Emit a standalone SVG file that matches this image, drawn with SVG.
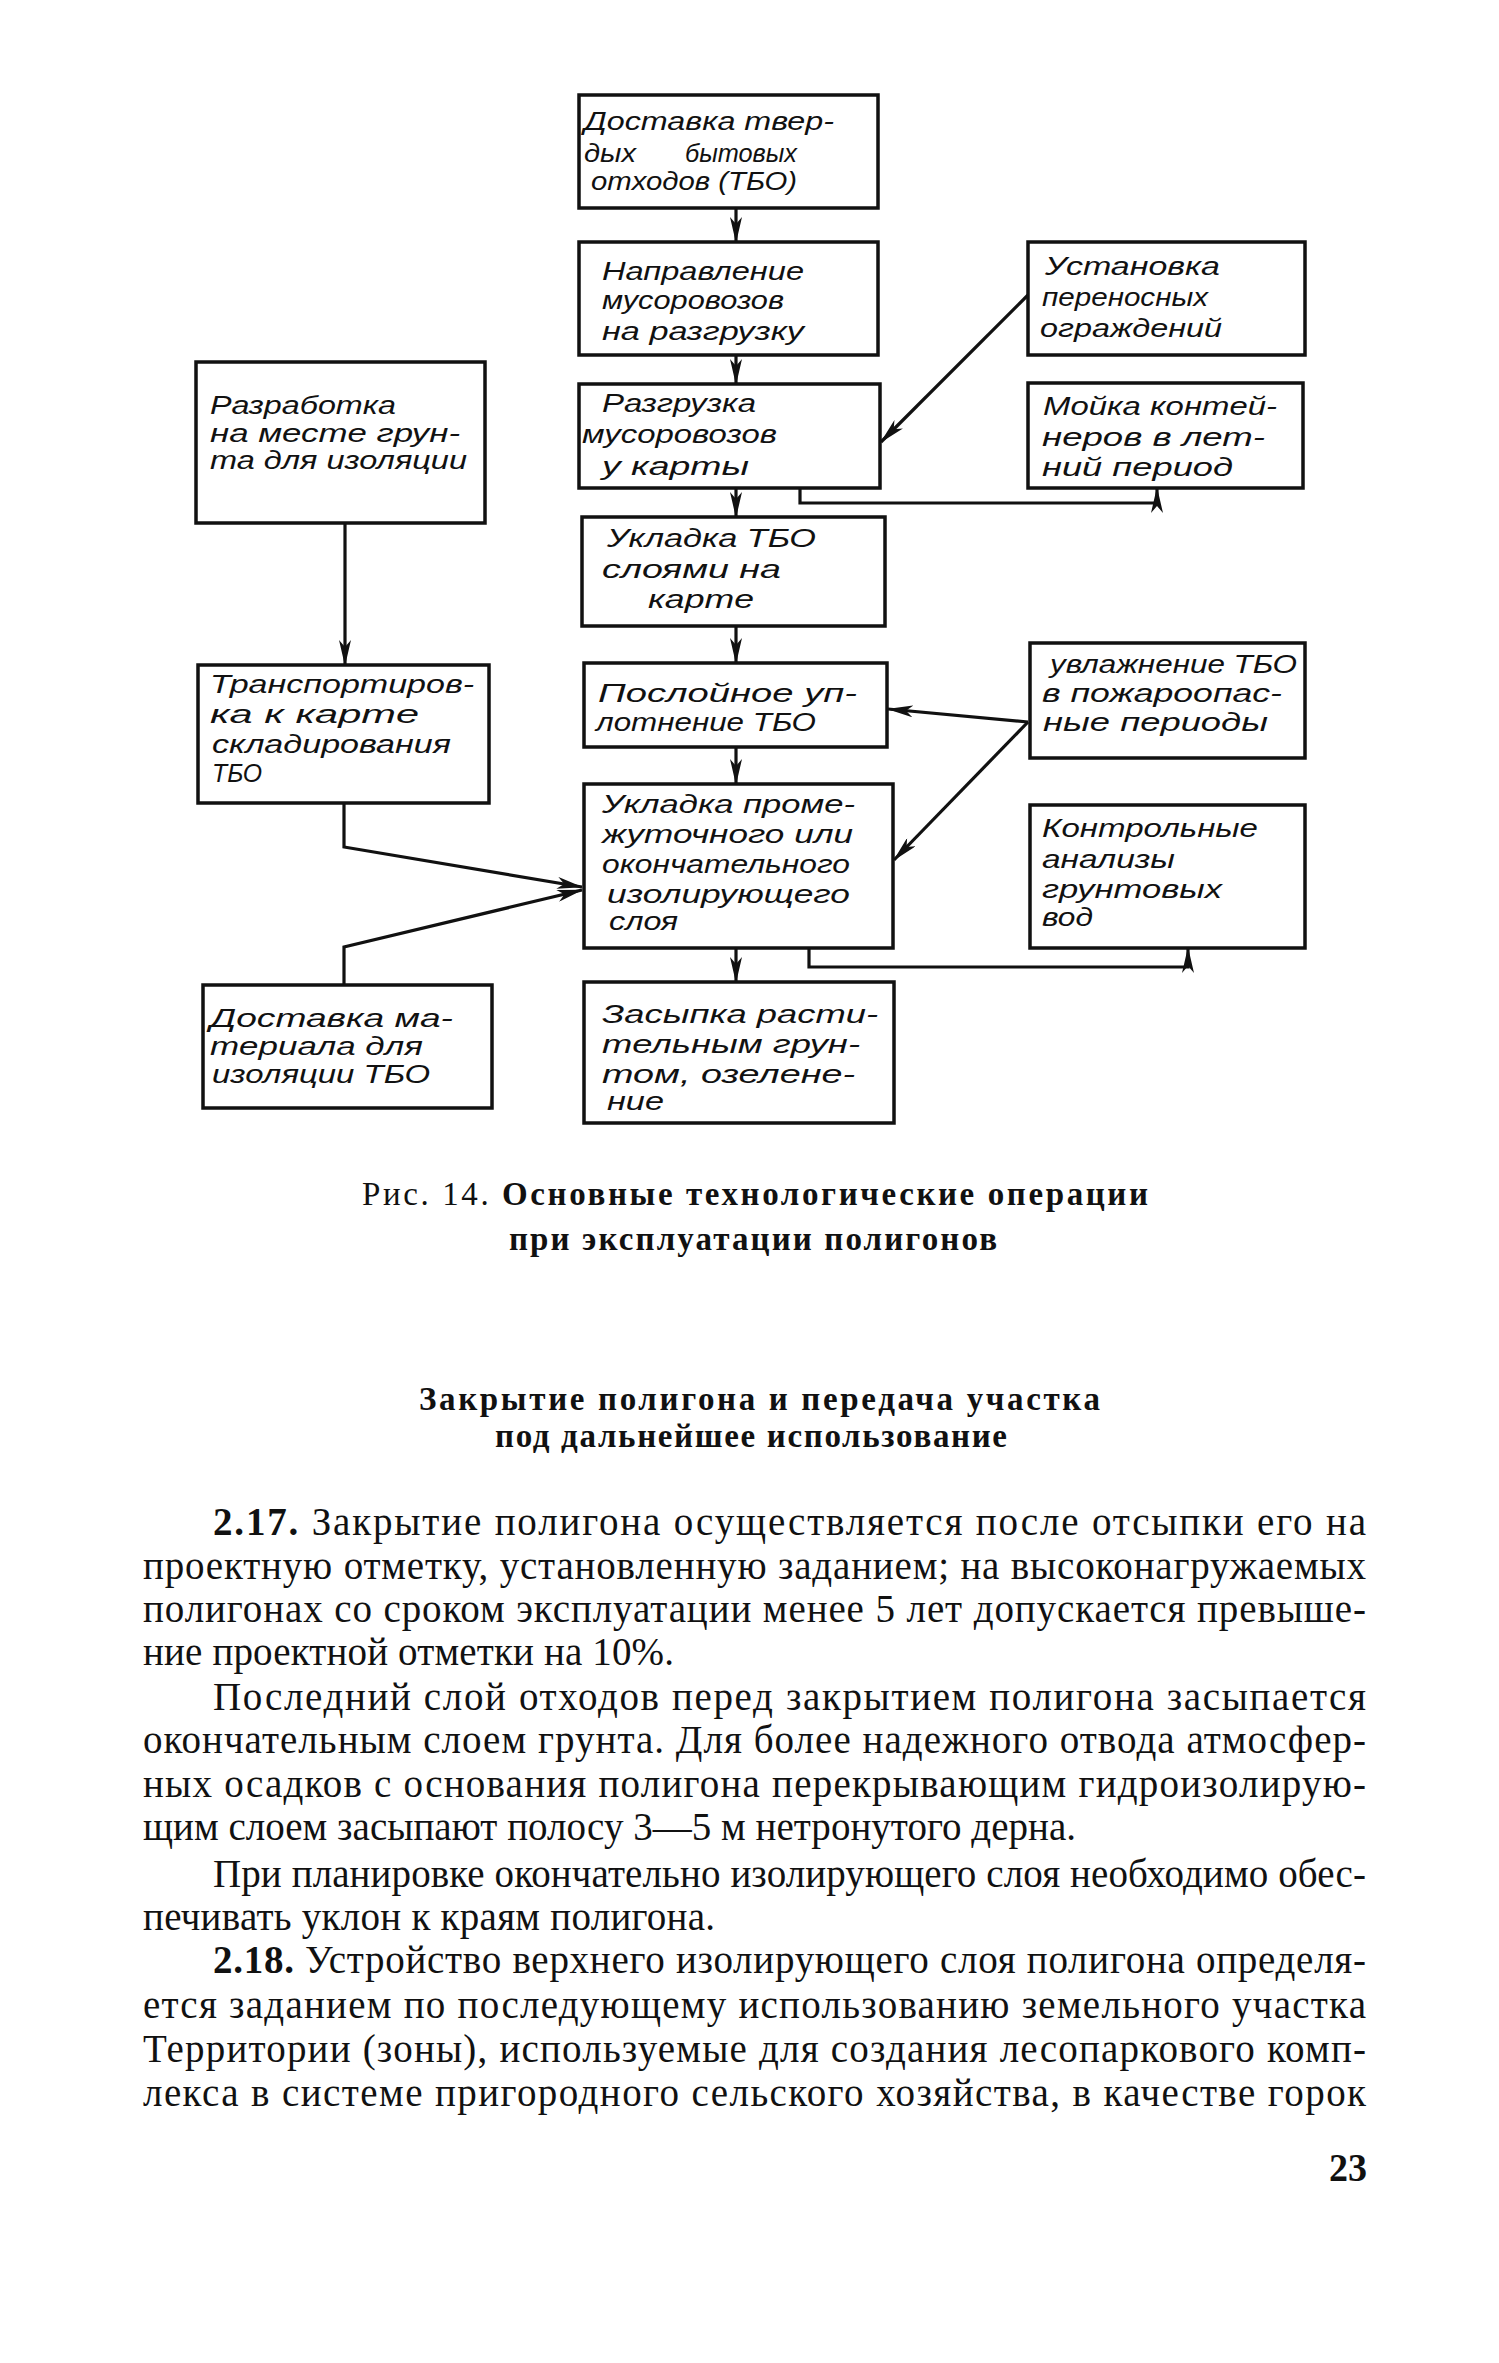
<svg xmlns="http://www.w3.org/2000/svg" width="1499" height="2363" viewBox="0 0 1499 2363">
<style>
.box{fill:#fff;stroke:#111;stroke-width:3.5}
.bt{font-family:"Liberation Sans",Arial,sans-serif;font-style:italic;font-size:25px;fill:#111}
.ln{fill:none;stroke:#111;stroke-width:3.2;stroke-linejoin:miter}
.body{font-family:"Liberation Serif","Times New Roman",serif;font-size:39px;fill:#111}
.cap{font-family:"Liberation Serif","Times New Roman",serif;font-size:33px;font-weight:bold;fill:#111}
.b{font-weight:bold}
.n{font-weight:normal}
</style>
<defs>
<marker id="ah" markerUnits="userSpaceOnUse" viewBox="0 0 26 12" refX="25" refY="6" markerWidth="26" markerHeight="12" orient="auto">
<path d="M0,0 L26,6 L0,12 L7,6 z" fill="#111"/>
</marker>
</defs>
<rect x="0" y="0" width="1499" height="2363" fill="#fff"/>

<g id="connectors">
<line class="ln" x1="736" y1="208" x2="736" y2="242" marker-end="url(#ah)"/>
<line class="ln" x1="736" y1="355" x2="736" y2="384" marker-end="url(#ah)"/>
<line class="ln" x1="736" y1="488" x2="736" y2="517" marker-end="url(#ah)"/>
<line class="ln" x1="736" y1="626" x2="736" y2="663" marker-end="url(#ah)"/>
<line class="ln" x1="736" y1="747" x2="736" y2="784" marker-end="url(#ah)"/>
<line class="ln" x1="736" y1="948" x2="736" y2="982" marker-end="url(#ah)"/>
<line class="ln" x1="345" y1="523" x2="345" y2="665" marker-end="url(#ah)"/>
<polyline class="ln" points="344,803 344,847 582,887" marker-end="url(#ah)"/>
<polyline class="ln" points="344,985 344,947 582,890" marker-end="url(#ah)"/>
<line class="ln" x1="1028" y1="295" x2="881" y2="442" marker-end="url(#ah)"/>
<polyline class="ln" points="800,488 800,503 1157,503 1157,488" marker-end="url(#ah)"/>
<line class="ln" x1="1028" y1="722" x2="888" y2="709" marker-end="url(#ah)"/>
<line class="ln" x1="1028" y1="722" x2="894" y2="860" marker-end="url(#ah)"/>
<polyline class="ln" points="809,948 809,967 1188,967 1188,948" marker-end="url(#ah)"/>
</g>

<g id="n1">
<rect class="box" x="579" y="95" width="299" height="113"/>
<text class="bt" x="584" y="130" textLength="250" lengthAdjust="spacingAndGlyphs">Доставка твер-</text>
<text class="bt"><tspan x="584" y="162" textLength="52" lengthAdjust="spacingAndGlyphs">дых</tspan><tspan x="685" y="162" textLength="112" lengthAdjust="spacingAndGlyphs">бытовых</tspan></text>
<text class="bt" x="591" y="190" textLength="206" lengthAdjust="spacingAndGlyphs">отходов (ТБО)</text>
</g>
<g id="n2">
<rect class="box" x="579" y="242" width="299" height="113"/>
<text class="bt" x="602" y="280" textLength="202" lengthAdjust="spacingAndGlyphs">Направление</text>
<text class="bt" x="602" y="309" textLength="182" lengthAdjust="spacingAndGlyphs">мусоровозов</text>
<text class="bt" x="602" y="340" textLength="202" lengthAdjust="spacingAndGlyphs">на разгрузку</text>
</g>
<g id="n3">
<rect class="box" x="579" y="384" width="301" height="104"/>
<text class="bt" x="602" y="412" textLength="154" lengthAdjust="spacingAndGlyphs">Разгрузка</text>
<text class="bt" x="582" y="443" textLength="195" lengthAdjust="spacingAndGlyphs">мусоровозов</text>
<text class="bt" x="602" y="475" textLength="147" lengthAdjust="spacingAndGlyphs">у карты</text>
</g>
<g id="n4">
<rect class="box" x="582" y="517" width="303" height="109"/>
<text class="bt" x="607" y="547" textLength="209" lengthAdjust="spacingAndGlyphs">Укладка ТБО</text>
<text class="bt" x="602" y="578" textLength="179" lengthAdjust="spacingAndGlyphs">слоями  на</text>
<text class="bt" x="648" y="608" textLength="106" lengthAdjust="spacingAndGlyphs">карте</text>
</g>
<g id="n5">
<rect class="box" x="584" y="663" width="303" height="84"/>
<text class="bt" x="598" y="702" textLength="259" lengthAdjust="spacingAndGlyphs">Послойное уп-</text>
<text class="bt" x="596" y="731" textLength="220" lengthAdjust="spacingAndGlyphs">лотнение ТБО</text>
</g>
<g id="n6">
<rect class="box" x="584" y="784" width="309" height="164"/>
<text class="bt" x="602" y="813" textLength="253" lengthAdjust="spacingAndGlyphs">Укладка проме-</text>
<text class="bt" x="602" y="843" textLength="251" lengthAdjust="spacingAndGlyphs">жуточного или</text>
<text class="bt" x="602" y="873" textLength="248" lengthAdjust="spacingAndGlyphs">окончательного</text>
<text class="bt" x="607" y="903" textLength="243" lengthAdjust="spacingAndGlyphs">изолирующего</text>
<text class="bt" x="609" y="930" textLength="69" lengthAdjust="spacingAndGlyphs">слоя</text>
</g>
<g id="n7">
<rect class="box" x="584" y="982" width="310" height="141"/>
<text class="bt" x="602" y="1023" textLength="276" lengthAdjust="spacingAndGlyphs">Засыпка расти-</text>
<text class="bt" x="602" y="1053" textLength="258" lengthAdjust="spacingAndGlyphs">тельным  грун-</text>
<text class="bt" x="602" y="1083" textLength="253" lengthAdjust="spacingAndGlyphs">том, озелене-</text>
<text class="bt" x="607" y="1110" textLength="57" lengthAdjust="spacingAndGlyphs">ние</text>
</g>
<g id="nL1">
<rect class="box" x="196" y="362" width="289" height="161"/>
<text class="bt" x="210" y="414" textLength="186" lengthAdjust="spacingAndGlyphs">Разработка</text>
<text class="bt" x="210" y="442" textLength="250" lengthAdjust="spacingAndGlyphs">на месте грун-</text>
<text class="bt" x="210" y="469" textLength="257" lengthAdjust="spacingAndGlyphs">та для изоляции</text>
</g>
<g id="nL2">
<rect class="box" x="198" y="665" width="291" height="138"/>
<text class="bt" x="210" y="693" textLength="264" lengthAdjust="spacingAndGlyphs">Транспортиров-</text>
<text class="bt" x="210" y="723" textLength="209" lengthAdjust="spacingAndGlyphs">ка  к  карте</text>
<text class="bt" x="212" y="753" textLength="239" lengthAdjust="spacingAndGlyphs">складирования</text>
<text class="bt" x="212" y="782" textLength="50" lengthAdjust="spacingAndGlyphs">ТБО</text>
</g>
<g id="nL3">
<rect class="box" x="203" y="985" width="289" height="123"/>
<text class="bt" x="210" y="1027" textLength="243" lengthAdjust="spacingAndGlyphs">Доставка  ма-</text>
<text class="bt" x="210" y="1055" textLength="213" lengthAdjust="spacingAndGlyphs">териала для</text>
<text class="bt" x="212" y="1083" textLength="218" lengthAdjust="spacingAndGlyphs">изоляции ТБО</text>
</g>
<g id="nR1">
<rect class="box" x="1028" y="242" width="277" height="113"/>
<text class="bt" x="1045" y="275" textLength="175" lengthAdjust="spacingAndGlyphs">Установка</text>
<text class="bt" x="1042" y="306" textLength="166" lengthAdjust="spacingAndGlyphs">переносных</text>
<text class="bt" x="1040" y="337" textLength="182" lengthAdjust="spacingAndGlyphs">ограждений</text>
</g>
<g id="nR2">
<rect class="box" x="1028" y="383" width="275" height="105"/>
<text class="bt" x="1043" y="415" textLength="234" lengthAdjust="spacingAndGlyphs">Мойка  контей-</text>
<text class="bt" x="1042" y="446" textLength="223" lengthAdjust="spacingAndGlyphs">неров  в  лет-</text>
<text class="bt" x="1042" y="476" textLength="191" lengthAdjust="spacingAndGlyphs">ний  период</text>
</g>
<g id="nR3">
<rect class="box" x="1030" y="643" width="275" height="115"/>
<text class="bt" x="1050" y="673" textLength="247" lengthAdjust="spacingAndGlyphs">увлажнение ТБО</text>
<text class="bt" x="1042" y="702" textLength="240" lengthAdjust="spacingAndGlyphs">в пожароопас-</text>
<text class="bt" x="1043" y="731" textLength="225" lengthAdjust="spacingAndGlyphs">ные   периоды</text>
</g>
<g id="nR4">
<rect class="box" x="1030" y="805" width="275" height="143"/>
<text class="bt" x="1042" y="837" textLength="216" lengthAdjust="spacingAndGlyphs">Контрольные</text>
<text class="bt" x="1042" y="868" textLength="133" lengthAdjust="spacingAndGlyphs">анализы</text>
<text class="bt" x="1042" y="898" textLength="180" lengthAdjust="spacingAndGlyphs">грунтовых</text>
<text class="bt" x="1042" y="926" textLength="51" lengthAdjust="spacingAndGlyphs">вод</text>
</g>

<g id="caption">
<text class="cap" x="362" y="1205" textLength="786" lengthAdjust="spacing"><tspan class="n">Рис. 14.</tspan> Основные технологические операции</text>
<text class="cap" x="509" y="1250" textLength="488" lengthAdjust="spacing">при эксплуатации полигонов</text>
<text class="cap" x="419" y="1410" textLength="681" lengthAdjust="spacing">Закрытие полигона и передача участка</text>
<text class="cap" x="495" y="1447" textLength="512" lengthAdjust="spacing">под дальнейшее использование</text>
</g>

<g id="body">
<text class="body" x="213" y="1535" textLength="1153" lengthAdjust="spacing"><tspan class="b">2.17.</tspan> Закрытие полигона осуществляется после отсыпки его на</text>
<text class="body" x="143" y="1579" textLength="1223" lengthAdjust="spacing">проектную отметку, установленную заданием; на высоконагружаемых</text>
<text class="body" x="143" y="1622" textLength="1223" lengthAdjust="spacing">полигонах со сроком эксплуатации менее 5 лет допускается превыше-</text>
<text class="body" x="143" y="1665" textLength="531" lengthAdjust="spacing">ние проектной отметки на 10%.</text>
<text class="body" x="213" y="1710" textLength="1153" lengthAdjust="spacing">Последний слой отходов перед закрытием полигона засыпается</text>
<text class="body" x="143" y="1753" textLength="1223" lengthAdjust="spacing">окончательным слоем грунта. Для более надежного отвода атмосфер-</text>
<text class="body" x="143" y="1797" textLength="1223" lengthAdjust="spacing">ных осадков с основания полигона перекрывающим гидроизолирую-</text>
<text class="body" x="143" y="1840" textLength="933" lengthAdjust="spacing">щим слоем засыпают полосу 3—5 м нетронутого дерна.</text>
<text class="body" x="213" y="1887" textLength="1153" lengthAdjust="spacing">При планировке окончательно изолирующего слоя необходимо обес-</text>
<text class="body" x="143" y="1930" textLength="572" lengthAdjust="spacing">печивать уклон к краям полигона.</text>
<text class="body" x="213" y="1973" textLength="1153" lengthAdjust="spacing"><tspan class="b">2.18.</tspan> Устройство верхнего изолирующего слоя полигона определя-</text>
<text class="body" x="143" y="2018" textLength="1223" lengthAdjust="spacing">ется заданием по последующему использованию земельного участка</text>
<text class="body" x="143" y="2062" textLength="1223" lengthAdjust="spacing">Территории (зоны), используемые для создания лесопаркового комп-</text>
<text class="body" x="143" y="2106" textLength="1223" lengthAdjust="spacing">лекса в системе пригородного сельского хозяйства, в качестве горок</text>
<text class="body b" x="1329" y="2181" textLength="38" lengthAdjust="spacingAndGlyphs">23</text>
</g>
</svg>
